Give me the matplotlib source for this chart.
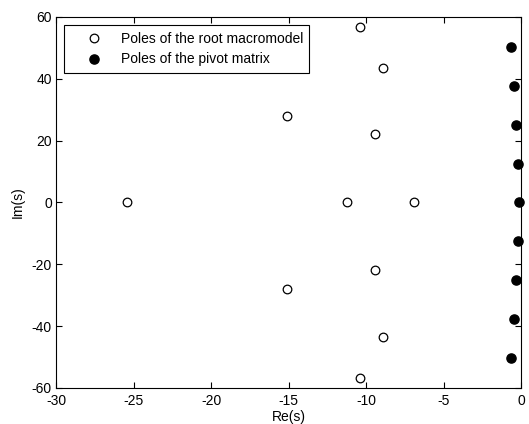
import matplotlib
matplotlib.use("Agg")
import matplotlib.pyplot as plt

plt.rcParams["font.family"] = ["Liberation Sans", "DejaVu Sans"]
plt.rcParams["axes.unicode_minus"] = False

# poles of the root macromodel (open circles)
root_re = [-25.4, -11.2, -6.9, -15.1, -15.1, -10.4, -10.4, -8.9, -8.9, -9.4, -9.4]
root_im = [0.0, 0.0, 0.0, 28.0, -28.0, 56.8, -56.8, 43.4, -43.4, 22.0, -22.0]

# poles of the pivot matrix (filled circles)
pivot_re = [-0.62, -0.48, -0.34, -0.22, -0.15, -0.22, -0.34, -0.48, -0.62]
pivot_im = [50.4, 37.8, 25.2, 12.6, 0.0, -12.6, -25.2, -37.8, -50.4]

xticks = [-30, -25, -20, -15, -10, -5, 0]
yticks = [-60, -40, -20, 0, 20, 40, 60]

fig = plt.figure(figsize=(5.29, 4.24), dpi=100)
ax = fig.add_axes([0.106, 0.085, 0.879, 0.875])

ax.plot(root_re, root_im, "o", linestyle="none", markersize=6.2,
        markerfacecolor="white", markeredgecolor="black", markeredgewidth=0.9,
        label="Poles of the root macromodel", clip_on=False)
ax.plot(pivot_re, pivot_im, "o", linestyle="none", markersize=6.6,
        markerfacecolor="black", markeredgecolor="black",
        label="Poles of the pivot matrix", clip_on=False)

ax.set_xlim(-30, 0)
ax.set_ylim(-60, 60)
ax.set_xticks(xticks)
ax.set_yticks(yticks)
ax.tick_params(direction="in", top=True, right=True, length=4, width=0.8,
               labelsize=10)
ax.tick_params(axis="x", pad=4)
ax.tick_params(axis="y", pad=3)
for spine in ax.spines.values():
    spine.set_linewidth(0.8)

ax.set_xlabel("Re(s)", fontsize=10, labelpad=2)
ax.set_ylabel("Im(s)", fontsize=10, labelpad=5)

leg = ax.legend(loc="upper left", fontsize=10, fancybox=False, framealpha=1,
                edgecolor="black", borderaxespad=0.6, handlelength=3.3,
                handletextpad=0.3, borderpad=0.45, labelspacing=0.5)
leg.get_frame().set_linewidth(0.8)

fig.savefig("out.png", dpi=100)
